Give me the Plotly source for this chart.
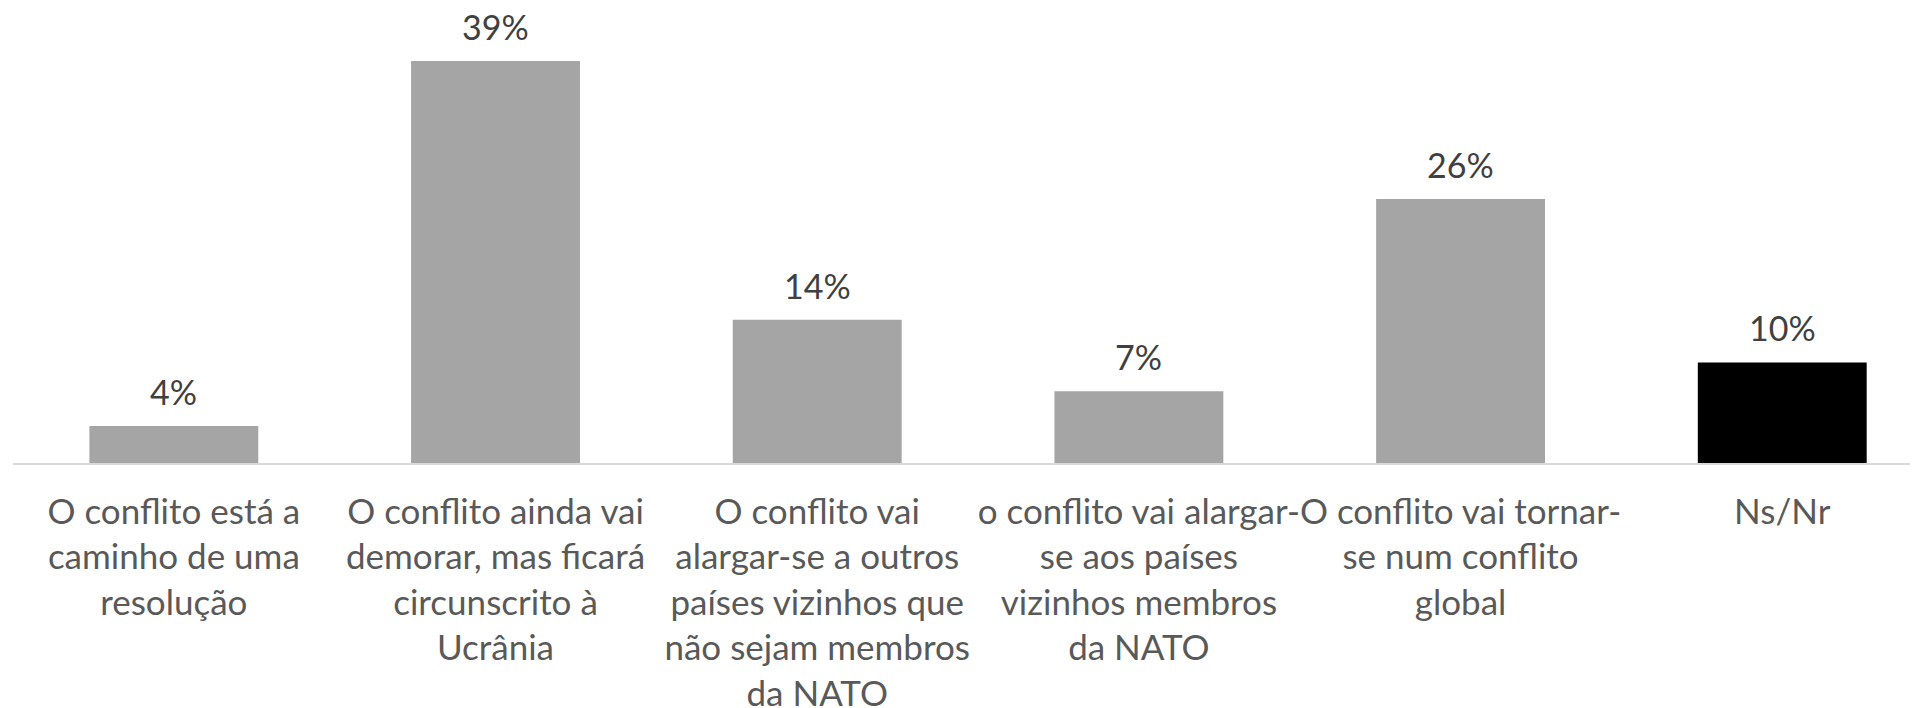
import plotly.graph_objects as go

categories = [
    "O conflito está a caminho de uma resolução",
    "O conflito ainda vai demorar, mas ficará circunscrito à Ucrânia",
    "O conflito vai alargar-se a outros países vizinhos que não sejam membros da NATO",
    "o conflito vai alargar-se aos países vizinhos membros da NATO",
    "O conflito vai tornar-se num conflito global",
    "Ns/Nr",
]
tick_labels = [
    "O conflito está a<br>caminho de uma<br>resolução",
    "O conflito ainda vai<br>demorar, mas ficará<br>circunscrito à<br>Ucrânia",
    "O conflito vai<br>alargar-se a outros<br>países vizinhos que<br>não sejam membros<br>da NATO",
    "o conflito vai alargar-<br>se aos países<br>vizinhos membros<br>da NATO",
    "O conflito vai tornar-<br>se num conflito<br>global",
    "Ns/Nr",
]
values = [3.6, 39.0, 13.9, 6.95, 25.6, 9.75]
value_labels = ["4%", "39%", "14%", "7%", "26%", "10%"]
bar_colors = ["#a5a5a5", "#a5a5a5", "#a5a5a5", "#a5a5a5", "#a5a5a5", "#000000"]

FONT = "Lato"

fig = go.Figure()
fig.add_trace(go.Bar(
    x=categories, y=values,
    marker=dict(color=bar_colors, line=dict(width=0)),
    hoverinfo="skip",
))

for c, v, t in zip(categories, values, value_labels):
    fig.add_annotation(
        x=c, y=v, text=t, showarrow=False,
        yanchor="bottom", yshift=13, borderpad=0,
        font=dict(family=FONT, size=34, color="#404040"),
    )

# the page body has an 8px default margin, so the figure is sized to fit the window
fig.update_layout(
    template="none",
    width=1910, height=700,
    margin=dict(l=5, r=0, t=0, b=245, autoexpand=False),
    paper_bgcolor="white", plot_bgcolor="white",
    bargap=0.475,
    showlegend=False,
    xaxis=dict(
        type="category",
        automargin=False,
        range=[-0.5, 5.422],
        tickmode="array", tickvals=categories, ticktext=tick_labels,
        tickfont=dict(family=FONT, size=35, color="#595959"),
        showline=True, linecolor="#d9d9d9", linewidth=1.5,
        ticks="outside", ticklen=17, tickcolor="rgba(0,0,0,0)",
        showgrid=False, tickangle=0, zeroline=False,
        fixedrange=True,
    ),
    yaxis=dict(
        automargin=False,
        range=[0, 44.13], visible=False, showgrid=False, zeroline=False,
        fixedrange=True,
    ),
)

fig.write_html("out.html")
